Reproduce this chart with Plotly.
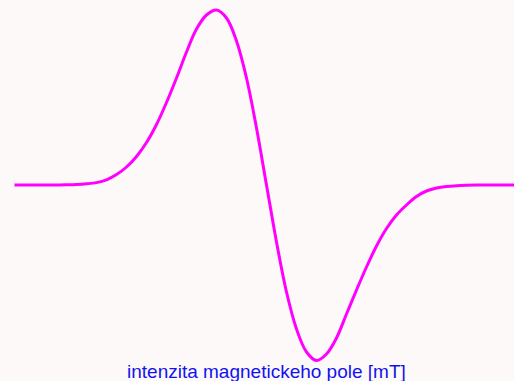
import plotly.graph_objects as go

# Magnetic field relative to the line centre [mT]
field_mT = [-25.2, -24, -23, -22, -21, -20, -19, -18, -17, -16, -15, -14, -13,
            -12, -11, -10, -9, -8, -7, -6, -5, -4, -3, -2, -1, 0,
            1, 2, 3, 4, 5, 6, 7, 8, 9, 10, 11, 12, 13, 14, 15, 16, 17, 18,
            19, 20, 21, 22, 23, 24, 25]
# First-derivative absorption signal (a.u.)
signal = [0, 0, 0, 0, 0.1, 0.2, 0.5, 1.2, 2.4, 5.2, 10.4, 18, 28.5,
          42.5, 60.5, 82.5, 107, 133, 156, 170, 175, 167, 144, 107, 57, 0,
          -57, -107, -144, -167, -175.5, -169, -153, -129, -105, -82, -61,
          -43.5, -30, -20, -11.5, -6, -3, -1.5, -0.7, -0.3, -0.1, 0, 0, 0, 0]

axis_label = "intenzita magnetickeho pole [mT]"

fig = go.Figure()
fig.add_trace(go.Scatter(
    x=field_mT, y=signal, mode="lines",
    line=dict(color="#ff00ff", width=3, shape="spline", smoothing=1),
    hoverinfo="skip", showlegend=False,
))

fig.add_annotation(
    text=axis_label, xref="x", yref="paper", x=0, y=0,
    xanchor="center", yanchor="bottom", showarrow=False, yshift=-3,
    font=dict(family="Liberation Sans, Arial, sans-serif", size=19, color="#1212f0"),
)

fig.update_layout(
    width=514, height=381,
    margin=dict(l=0, r=0, t=0, b=0),
    paper_bgcolor="#fdf9f9", plot_bgcolor="#fdf9f9",
    xaxis=dict(range=[-26.65, 24.75], visible=False, fixedrange=True),
    yaxis=dict(range=[-196, 185], visible=False, fixedrange=True),
)

fig.write_html("out.html", config={"displayModeBar": False})
